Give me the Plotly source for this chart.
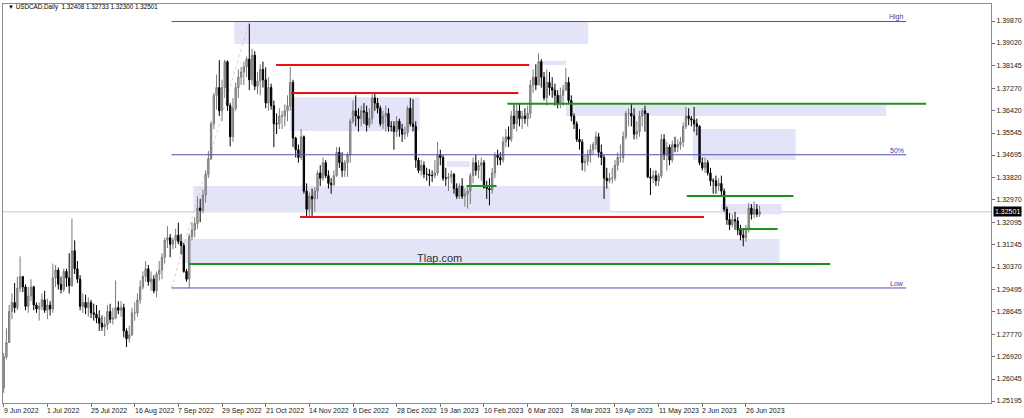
import plotly.graph_objects as go

# USDCAD daily, 9 Jun 2022 .. 3 Jul 2023 (one value per trading day)
first_open = 1.2570
closes = [
    1.2690, 1.2745,
    1.2865, 1.2900, 1.2880, 1.2955, 1.3000,
    1.2960, 1.2885, 1.2925, 1.2960, 1.2890,
    1.2875, 1.2885, 1.2910, 1.2870, 1.2890,
    1.2875, 1.2995, 1.3025, 1.2970, 1.2950,
    1.3020, 1.2995, 1.2965, 1.3100, 1.3030,
    1.2990, 1.2885, 1.2900, 1.2880, 1.2900,
    1.2860, 1.2855, 1.2840, 1.2820, 1.2805,
    1.2815, 1.2865, 1.2835, 1.2840, 1.2880,
    1.2870, 1.2880, 1.2790, 1.2760, 1.2775,
    1.2860, 1.2860, 1.2910, 1.2960, 1.3000,
    1.3030, 1.2980, 1.2990, 1.2945, 1.3010,
    1.3025, 1.3075, 1.3140, 1.3150, 1.3125,
    1.3140, 1.3160, 1.3135, 1.3120, 1.3020,
    1.2990, 1.3155, 1.3180, 1.3205, 1.3265,
    1.3255, 1.3315, 1.3395, 1.3455, 1.3590,
    1.3700, 1.3730, 1.3640, 1.3730, 1.3830,
    1.3660, 1.3540, 1.3650, 1.3730, 1.3770,
    1.3790, 1.3810, 1.3840, 1.3760, 1.3855,
    1.3735, 1.3755, 1.3800, 1.3760, 1.3670,
    1.3730, 1.3660, 1.3590, 1.3590, 1.3620,
    1.3620, 1.3640, 1.3660, 1.3750, 1.3535,
    1.3490, 1.3460, 1.3540, 1.3330, 1.3260,
    1.3310, 1.3300, 1.3330, 1.3400, 1.3380,
    1.3440, 1.3390, 1.3360, 1.3355, 1.3390,
    1.3480, 1.3440, 1.3410, 1.3440, 1.3470,
    1.3600, 1.3640, 1.3620, 1.3610, 1.3640,
    1.3635, 1.3585, 1.3610, 1.3690, 1.3670,
    1.3650, 1.3590, 1.3620, 1.3630, 1.3580,
    1.3580, 1.3560, 1.3600, 1.3570, 1.3550,
    1.3555, 1.3650, 1.3590, 1.3580, 1.3450,
    1.3410, 1.3430, 1.3395, 1.3395, 1.3390,
    1.3390, 1.3400, 1.3470, 1.3460, 1.3380,
    1.3380, 1.3385, 1.3395, 1.3340, 1.3310,
    1.3350, 1.3310, 1.3320, 1.3330, 1.3390,
    1.3440, 1.3410, 1.3430, 1.3440, 1.3345,
    1.3340, 1.3335, 1.3400, 1.3470, 1.3460,
    1.3450, 1.3520, 1.3540, 1.3530, 1.3620,
    1.3590, 1.3640, 1.3610, 1.3620, 1.3610,
    1.3630, 1.3740, 1.3770, 1.3740, 1.3830,
    1.3770, 1.3690, 1.3750, 1.3730, 1.3720,
    1.3700, 1.3670, 1.3700, 1.3720, 1.3750,
    1.3680, 1.3620, 1.3590, 1.3530, 1.3520,
    1.3440, 1.3445, 1.3470, 1.3490, 1.3510,
    1.3540, 1.3480, 1.3460, 1.3380, 1.3370,
    1.3380, 1.3380, 1.3430, 1.3460, 1.3460,
    1.3540, 1.3630, 1.3630, 1.3620, 1.3550,
    1.3560, 1.3620, 1.3640, 1.3630, 1.3385,
    1.3380, 1.3390, 1.3370, 1.3390, 1.3530,
    1.3470, 1.3500, 1.3450, 1.3510, 1.3500,
    1.3510, 1.3520, 1.3580, 1.3620, 1.3610,
    1.3605, 1.3590, 1.3580, 1.3440, 1.3420,
    1.3440, 1.3400, 1.3370, 1.3370, 1.3350,
    1.3360, 1.3330, 1.3260, 1.3220, 1.3200,
    1.3220, 1.3215, 1.3180, 1.3160, 1.3150,
    1.3180, 1.3265, 1.3240, 1.3260, 1.32408,
    1.32501,
]
highs = [
    1.2705, 1.2800,
    1.2890, 1.2935, 1.2975, 1.3000, 1.3078,
    1.3000, 1.2970, 1.2960, 1.2990, 1.2965,
    1.2900, 1.2900, 1.2935, 1.2945, 1.2915,
    1.2905, 1.3050, 1.3045, 1.3035, 1.3000,
    1.3030, 1.3030, 1.3090, 1.3224, 1.3140,
    1.3060, 1.3005, 1.2935, 1.2930, 1.2920,
    1.2910, 1.2895, 1.2890, 1.2870, 1.2850,
    1.2845, 1.2890, 1.2895, 1.2880, 1.2985,
    1.2905, 1.2905, 1.2895, 1.2800, 1.2810,
    1.2880, 1.2900, 1.2935, 1.2985, 1.3020,
    1.3060, 1.3045, 1.3020, 1.3005, 1.3020,
    1.3060, 1.3090, 1.3150, 1.3195, 1.3165,
    1.3150, 1.3185, 1.3208, 1.3165, 1.3130,
    1.3030, 1.3165, 1.3210, 1.3230, 1.3310,
    1.3300, 1.3335, 1.3410, 1.3485, 1.3600,
    1.3710, 1.3780, 1.3836, 1.3760, 1.3838,
    1.3835, 1.3670, 1.3690, 1.3750, 1.3800,
    1.3810, 1.3830, 1.3850, 1.3977, 1.3880,
    1.3870, 1.3790, 1.3820, 1.3830, 1.3808,
    1.3770, 1.3745, 1.3680, 1.3630, 1.3650,
    1.3640, 1.3665, 1.3700, 1.3810, 1.3760,
    1.3540, 1.3510, 1.3570, 1.3545, 1.3360,
    1.3325, 1.3340, 1.3345, 1.3410, 1.3430,
    1.3460, 1.3450, 1.3410, 1.3380, 1.3410,
    1.3500, 1.3500, 1.3480, 1.3450, 1.3480,
    1.3610, 1.3680, 1.3700, 1.3650, 1.3660,
    1.3670, 1.3660, 1.3650, 1.3705, 1.3705,
    1.3690, 1.3660, 1.3640, 1.3660, 1.3650,
    1.3600, 1.3600, 1.3620, 1.3610, 1.3590,
    1.3580, 1.3660, 1.3690, 1.3685, 1.3600,
    1.3460, 1.3450, 1.3445, 1.3420, 1.3415,
    1.3410, 1.3450, 1.3520, 1.3490, 1.3470,
    1.3420, 1.3400, 1.3410, 1.3400, 1.3360,
    1.3360, 1.3380, 1.3340, 1.3350, 1.3400,
    1.3460, 1.3470, 1.3450, 1.3460, 1.3450,
    1.3370, 1.3380, 1.3420, 1.3480, 1.3490,
    1.3480, 1.3540, 1.3570, 1.3580, 1.3640,
    1.3665, 1.3665, 1.3670, 1.3640, 1.3650,
    1.3660, 1.3760, 1.3800, 1.3820, 1.3862,
    1.3840, 1.3790, 1.3800, 1.3790, 1.3770,
    1.3745, 1.3720, 1.3730, 1.3740, 1.3805,
    1.3770, 1.3700, 1.3630, 1.3600, 1.3570,
    1.3530, 1.3470, 1.3490, 1.3510, 1.3520,
    1.3560, 1.3555, 1.3510, 1.3470, 1.3420,
    1.3400, 1.3420, 1.3450, 1.3480, 1.3510,
    1.3560, 1.3640, 1.3650, 1.3667, 1.3650,
    1.3600, 1.3640, 1.3650, 1.3660, 1.3630,
    1.3420, 1.3410, 1.3410, 1.3400, 1.3550,
    1.3550, 1.3520, 1.3510, 1.3525, 1.3540,
    1.3530, 1.3540, 1.3595, 1.3655, 1.3650,
    1.3620, 1.3655, 1.3610, 1.3585, 1.3460,
    1.3460, 1.3450, 1.3420, 1.3380, 1.3390,
    1.3380, 1.3390, 1.3340, 1.3270, 1.3245,
    1.3240, 1.3250, 1.3230, 1.3200, 1.3180,
    1.3200, 1.3285, 1.3280, 1.3290, 1.3280,
    1.32733,
]
lows = [
    1.2551, 1.2680,
    1.2745, 1.2835, 1.2860, 1.2870, 1.2940,
    1.2940, 1.2870, 1.2860, 1.2905, 1.2870,
    1.2860, 1.2830, 1.2870, 1.2860, 1.2835,
    1.2850, 1.2860, 1.2960, 1.2950, 1.2935,
    1.2940, 1.2960, 1.2935, 1.2960, 1.3010,
    1.2975, 1.2870, 1.2860, 1.2855, 1.2845,
    1.2840, 1.2830, 1.2820, 1.2790, 1.2790,
    1.2770, 1.2795, 1.2820, 1.2815, 1.2835,
    1.2855, 1.2845, 1.2765, 1.2728, 1.2745,
    1.2770, 1.2830, 1.2845, 1.2895, 1.2950,
    1.2980, 1.2965, 1.2945, 1.2935, 1.2920,
    1.2985, 1.2990, 1.3050, 1.3110, 1.3075,
    1.3105, 1.3110, 1.3125, 1.3085, 1.3015,
    1.2980, 1.2954, 1.3140, 1.3150, 1.3185,
    1.3210, 1.3245, 1.3285, 1.3380, 1.3450,
    1.3570, 1.3645, 1.3620, 1.3600, 1.3690,
    1.3640, 1.3503, 1.3520, 1.3640, 1.3690,
    1.3740, 1.3740, 1.3770, 1.3720, 1.3740,
    1.3720, 1.3705, 1.3700, 1.3730, 1.3650,
    1.3640, 1.3645, 1.3500, 1.3550, 1.3570,
    1.3570, 1.3580, 1.3600, 1.3640, 1.3500,
    1.3460, 1.3440, 1.3450, 1.3320, 1.3230,
    1.3230, 1.3226, 1.3250, 1.3300, 1.3350,
    1.3370, 1.3380, 1.3340, 1.3320, 1.3350,
    1.3385, 1.3420, 1.3385, 1.3385, 1.3385,
    1.3440, 1.3590, 1.3580, 1.3560, 1.3580,
    1.3590, 1.3560, 1.3575, 1.3590, 1.3640,
    1.3630, 1.3580, 1.3570, 1.3560, 1.3560,
    1.3560, 1.3490, 1.3540, 1.3540, 1.3520,
    1.3530, 1.3540, 1.3580, 1.3560, 1.3420,
    1.3400, 1.3390, 1.3380, 1.3370, 1.3350,
    1.3365, 1.3380, 1.3390, 1.3430, 1.3370,
    1.3350, 1.3330, 1.3360, 1.3320, 1.3300,
    1.3300, 1.3300, 1.3270, 1.3262, 1.3280,
    1.3360, 1.3390, 1.3380, 1.3370, 1.3340,
    1.3300, 1.3275, 1.3320, 1.3380, 1.3430,
    1.3430, 1.3440, 1.3500, 1.3500, 1.3520,
    1.3570, 1.3560, 1.3580, 1.3570, 1.3590,
    1.3580, 1.3610, 1.3710, 1.3720, 1.3740,
    1.3730, 1.3680, 1.3660, 1.3700, 1.3690,
    1.3660, 1.3650, 1.3650, 1.3660, 1.3720,
    1.3670, 1.3600, 1.3570, 1.3520, 1.3490,
    1.3410, 1.3405, 1.3430, 1.3440, 1.3470,
    1.3490, 1.3460, 1.3430, 1.3300, 1.3340,
    1.3360, 1.3360, 1.3370, 1.3410, 1.3440,
    1.3440, 1.3530, 1.3580, 1.3580, 1.3530,
    1.3530, 1.3540, 1.3580, 1.3560, 1.3380,
    1.3315, 1.3360, 1.3350, 1.3350, 1.3380,
    1.3450, 1.3410, 1.3430, 1.3440, 1.3480,
    1.3480, 1.3490, 1.3500, 1.3570, 1.3585,
    1.3580, 1.3560, 1.3545, 1.3430, 1.3410,
    1.3400, 1.3390, 1.3350, 1.3320, 1.3320,
    1.3330, 1.3310, 1.3250, 1.3200, 1.3180,
    1.3190, 1.3180, 1.3160, 1.3140, 1.3117,
    1.3135, 1.3170, 1.3220, 1.3225, 1.3230,
    1.32300,
]
opens = [first_open] + closes[:-1]

tick_labels = ["9 Jun 2022", "1 Jul 2022", "25 Jul 2022", "16 Aug 2022", "7 Sep 2022",
               "29 Sep 2022", "21 Oct 2022", "14 Nov 2022", "6 Dec 2022", "28 Dec 2022",
               "19 Jan 2023", "10 Feb 2023", "6 Mar 2023", "28 Mar 2023", "19 Apr 2023",
               "11 May 2023", "2 Jun 2023", "26 Jun 2023"]
price_ticks = [1.39870, 1.39020, 1.38145, 1.37270, 1.36420, 1.35545, 1.34695, 1.33820,
               1.32970, 1.32095, 1.31245, 1.30370, 1.29495, 1.28645, 1.27770, 1.26920,
               1.26045, 1.25195]

# drawn objects: zones (bar index span, price span) and levels
zone_x0 = [84.5, 69.5, 65.5, 105.0, 162.3, 196.3, 206.1, 252.5, 262.8]
zone_x1 = [214.2, 222.2, 284.3, 152.4, 170.7, 206.1, 323.4, 290.2, 285.0]
zone_top = [1.3987, 1.3350, 1.3145, 1.3693, 1.3446, 1.3833, 1.3663, 1.3570, 1.3280]
zone_bot = [1.3898, 1.3249, 1.3052, 1.3562, 1.3423, 1.3817, 1.3620, 1.3450, 1.3241]

red_y = [1.3817, 1.3709, 1.3230]
red_x0 = [99.8, 105.3, 108.6]
red_x1 = [192.6, 188.6, 256.6]

green_y = [1.3667, 1.3049, 1.3350, 1.3311, 1.3184]
green_x0 = [184.6, 67.7, 169.6, 250.3, 269.3]
green_x1 = [338.0, 302.9, 180.6, 289.4, 283.6]

fib_high = 1.3985
fib_low = 1.2956
fib_x0 = 61.5
fib_x1 = 330.7
fib_peak_bar = 90

n = len(closes)
bars = list(range(n))
tick_idx = list(range(0, 16 * len(tick_labels), 16))

FONT = "Liberation Sans"
fig = go.Figure()
fig.add_trace(go.Candlestick(
    x=bars, open=opens, high=highs, low=lows, close=closes,
    increasing=dict(line=dict(color="#7a7a7a", width=1), fillcolor="#b0b0b0"),
    decreasing=dict(line=dict(color="#000000", width=1), fillcolor="#000000"),
    whiskerwidth=0, hoverinfo="skip",
))

shapes = []
for a, b, t, btm in zip(zone_x0, zone_x1, zone_top, zone_bot):
    shapes.append(dict(type="rect", xref="x", yref="y", x0=a, x1=b, y0=btm, y1=t,
                       fillcolor="#e4e4f8", line=dict(width=0), layer="below"))
# current price line
shapes.append(dict(type="line", xref="paper", yref="y", x0=0, x1=1, y0=closes[-1], y1=closes[-1],
                   line=dict(color="#c8c8c8", width=1), layer="below"))
# fibo diagonal
shapes.append(dict(type="line", xref="x", yref="y", x0=fib_x0, x1=fib_peak_bar, y0=fib_low, y1=fib_high,
                   line=dict(color="#f3c4d0", width=1, dash="dot"), layer="below"))
fib_mid = (fib_high + fib_low) / 2
for lvl in [fib_high, fib_mid, fib_low]:
    shapes.append(dict(type="line", xref="x", yref="y", x0=fib_x0, x1=fib_x1, y0=lvl, y1=lvl,
                       line=dict(color="#5050b0", width=1)))
for yv, a, b in zip(red_y, red_x0, red_x1):
    shapes.append(dict(type="line", xref="x", yref="y", x0=a, x1=b, y0=yv, y1=yv,
                       line=dict(color="#e81010", width=2)))
for yv, a, b in zip(green_y, green_x0, green_x1):
    shapes.append(dict(type="line", xref="x", yref="y", x0=a, x1=b, y0=yv, y1=yv,
                       line=dict(color="#1f8f1f", width=2)))

annotations = []
for lbl, yv in zip(["High", "50%", "Low"], [fib_high, fib_mid, fib_low]):
    annotations.append(dict(x=fib_x1, y=yv, xref="x", yref="y", text=lbl, showarrow=False,
                            xanchor="right", yanchor="bottom", yshift=-1,
                            font=dict(family=FONT, size=7, color="#4040a0")))
for i, lbl in zip(tick_idx, tick_labels):
    annotations.append(dict(x=i, y=0, xref="x", yref="paper", text=lbl, showarrow=False,
                            xanchor="left", yanchor="top", xshift=-2, yshift=-2,
                            font=dict(family=FONT, size=7, color="#202020")))
annotations.append(dict(x=159.7, y=1.3072, xref="x", yref="y", text="Tlap.com", showarrow=False,
                        font=dict(family=FONT, size=11, color="#333333")))
annotations.append(dict(x=0.003, y=0.992, xref="paper", yref="paper", xanchor="left", yanchor="middle",
                        text="<span style='font-size:6px'>▼</span> USDCAD,Daily  1.32408 1.32733 1.32300 1.32501",
                        showarrow=False, font=dict(family=FONT, size=6.3, color="#000000")))
annotations.append(dict(x=1.002, y=closes[-1], xref="paper", yref="y", xanchor="left", yanchor="middle",
                        text=f"{closes[-1]:.5f}", showarrow=False, bgcolor="#000000", borderpad=1,
                        font=dict(family=FONT, size=7, color="#ffffff")))

fig.update_layout(
    width=1024, height=418,
    margin=dict(l=2, r=31, t=4, b=15),
    paper_bgcolor="white", plot_bgcolor="white",
    showlegend=False,
    shapes=shapes, annotations=annotations,
    xaxis=dict(range=[-0.26, 361.8], rangeslider=dict(visible=False), showgrid=False, zeroline=False,
               tickmode="array", tickvals=tick_idx, showticklabels=False,
               ticks="outside", ticklen=3, tickcolor="#707070",
               showline=True, mirror=True, linecolor="#8c8c8c", linewidth=1),
    yaxis=dict(side="right", range=[1.25118, 1.40527], showgrid=False, zeroline=False,
               tickmode="array", tickvals=price_ticks, ticktext=[f"{v:.5f}" for v in price_ticks],
               ticks="outside", ticklen=3, tickcolor="#707070",
               tickfont=dict(family=FONT, size=7, color="#202020"),
               showline=True, mirror=True, linecolor="#8c8c8c", linewidth=1),
)

# the page body has a default 8px margin; drop it so the figure sits at the window corner
fig.write_html("out.html", config={"displayModeBar": False},
               post_script="document.body.style.margin='0';document.body.style.overflow='hidden';")
